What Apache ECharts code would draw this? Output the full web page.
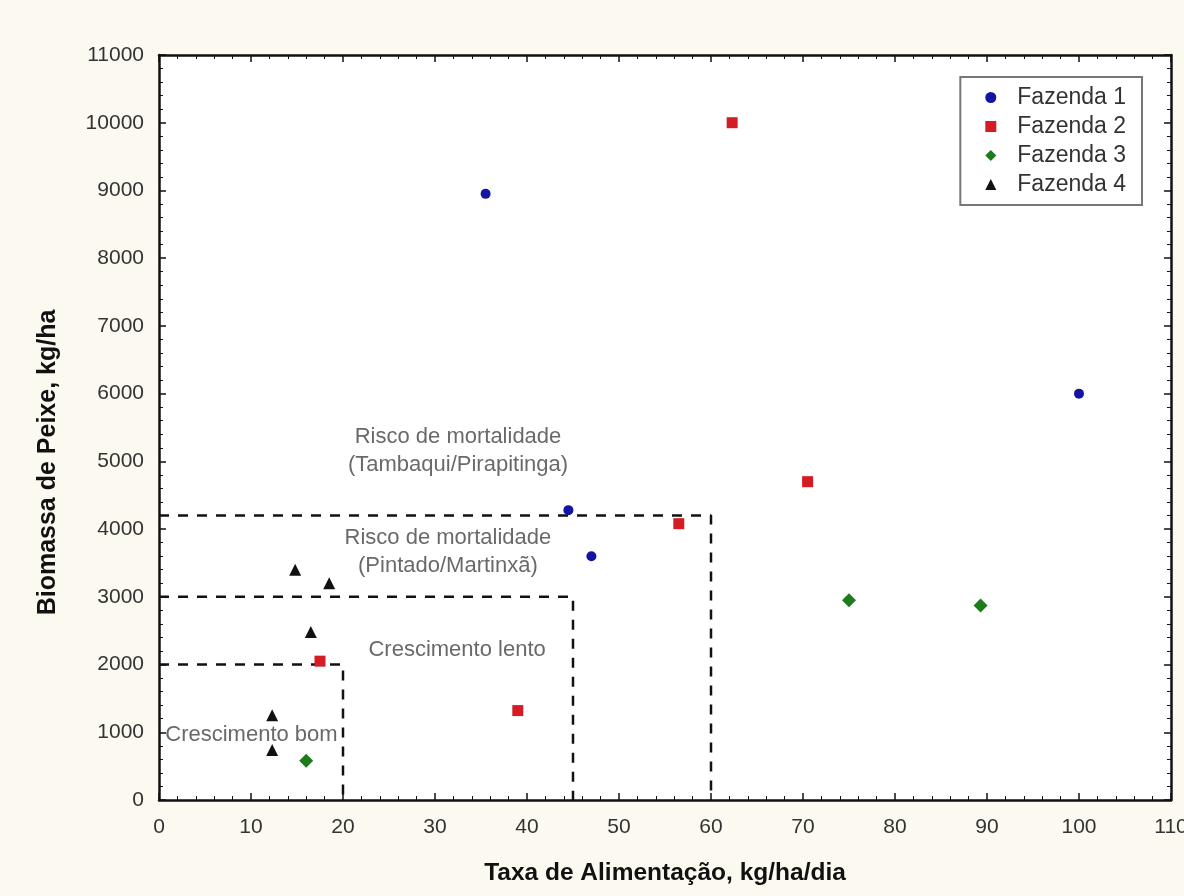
<!DOCTYPE html>
<html>
<head>
<meta charset="utf-8">
<script src="https://cdn.jsdelivr.net/npm/echarts@6/dist/echarts.min.js"></script>
<style>
html,body{margin:0;padding:0;background:#fcfaf0;}
#c{width:1184px;height:896px;}
</style>
</head>
<body>
<div id="c"></div>
<script>
// ---- data ----
const seriesNames = ['Fazenda 1', 'Fazenda 2', 'Fazenda 3', 'Fazenda 4'];
const fazenda1 = [[35.5, 8950], [44.5, 4280], [47, 3600], [100, 6000]];
const fazenda2 = [[62.3, 10000], [70.5, 4700], [56.5, 4080], [17.5, 2050], [39, 1320]];
const fazenda3 = [[75, 2950], [89.3, 2870], [16, 580]];
const fazenda4 = [[14.8, 3400], [18.5, 3200], [16.5, 2480], [12.3, 1250], [12.3, 740]];
// zone boundaries: [x limit, y limit]
const zones = [[20, 2000], [45, 3000], [60, 4200]];
// zone labels: [x, y, text]
const zoneLabels = [
  [32.5, 5150, 'Risco de mortalidade\n(Tambaqui/Pirapitinga)'],
  [31.4, 3665, 'Risco de mortalidade\n(Pintado/Martinxã)'],
  [32.4, 2215, 'Crescimento lento'],
  [10.05, 960, 'Crescimento bom']
];
const xTicks = [0, 10, 20, 30, 40, 50, 60, 70, 80, 90, 100, 110];
const yTicks = [0, 1000, 2000, 3000, 4000, 5000, 6000, 7000, 8000, 9000, 10000, 11000];

const font = 'Liberation Sans, Arial, sans-serif';
const chart = echarts.init(document.getElementById('c'));

const axisCommon = {
  axisLine: {show: true, onZero: false, lineStyle: {color: '#111', width: 2.5}},
  axisTick: {show: true, inside: true, length: 7, lineStyle: {color: '#111', width: 1.5}},
  minorTick: {show: true, splitNumber: 5, length: 4, lineStyle: {color: '#111', width: 1}},
  splitLine: {show: false}
};

const zoneSeries = zones.map(z => ({
  type: 'line', silent: true, symbol: 'none', z: 1,
  lineStyle: {color: '#111', width: 2.5, type: [10, 9]},
  data: [[0, z[1]], [z[0], z[1]], [z[0], 0]]
}));

chart.setOption({
  backgroundColor: '#fcfaf0',
  animation: false,
  grid: {left: 159, right: 13, top: 55, bottom: 96, outerBoundsMode: 'none', containLabel: false,
    show: true, backgroundColor: '#ffffff', borderWidth: 0},
  legend: {
    data: seriesNames, orient: 'vertical', right: 42, top: 77, align: 'left',
    backgroundColor: '#ffffff', borderColor: '#777', borderWidth: 2, borderRadius: 0,
    padding: [9, 16, 9, 25], itemGap: 6, itemWidth: 11, itemHeight: 11,
    textStyle: {fontFamily: font, fontSize: 23, color: '#333', padding: [0, 0, 0, 16]}
  },
  xAxis: [
    Object.assign({
      type: 'value', min: xTicks[0], max: xTicks[xTicks.length - 1], interval: 10,
      name: 'Taxa de Alimentação, kg/ha/dia', nameLocation: 'middle', nameGap: 61,
      nameTextStyle: {fontFamily: font, fontSize: 24.5, fontWeight: 'bold', color: '#111'},
      axisLabel: {fontFamily: font, fontSize: 21, color: '#333', margin: 17}
    }, axisCommon),
    Object.assign({
      type: 'value', position: 'top', min: xTicks[0], max: xTicks[xTicks.length - 1], interval: 10,
      axisLabel: {show: false}
    }, axisCommon)
  ],
  yAxis: [
    Object.assign({
      type: 'value', min: yTicks[0], max: yTicks[yTicks.length - 1], interval: 1000,
      name: 'Biomassa de Peixe, kg/ha', nameLocation: 'middle', nameGap: 98,
      nameTextStyle: {fontFamily: font, fontSize: 25, fontWeight: 'bold', color: '#111', padding: [0, 70, 0, 0]},
      axisLabel: {fontFamily: font, fontSize: 21, color: '#333', margin: 15, formatter: v => String(v)}
    }, axisCommon),
    Object.assign({
      type: 'value', position: 'right', min: yTicks[0], max: yTicks[yTicks.length - 1], interval: 1000,
      axisLabel: {show: false}
    }, axisCommon)
  ],
  series: zoneSeries.concat([
    {
      type: 'scatter', silent: true, symbolSize: 0, z: 2,
      data: zoneLabels.map(l => ({value: [l[0], l[1]], name: l[2]})),
      label: {show: true, position: 'inside', formatter: p => p.name,
        fontFamily: font, fontSize: 22, color: '#444', lineHeight: 28, align: 'center'}
    },
    {name: seriesNames[0], type: 'scatter', symbol: 'circle', symbolSize: 10, z: 5,
      itemStyle: {color: '#1414a4', opacity: 1}, data: fazenda1},
    {name: seriesNames[1], type: 'scatter', symbol: 'rect', symbolSize: 11, z: 5,
      itemStyle: {color: '#d41c24', opacity: 1}, data: fazenda2},
    {name: seriesNames[2], type: 'scatter', symbol: 'diamond', symbolSize: 14, z: 5,
      itemStyle: {color: '#1c7c1c', opacity: 1}, data: fazenda3},
    {name: seriesNames[3], type: 'scatter', symbol: 'triangle', symbolSize: 12, z: 5,
      itemStyle: {color: '#111', opacity: 1}, data: fazenda4}
  ])
});
</script>
</body>
</html>
